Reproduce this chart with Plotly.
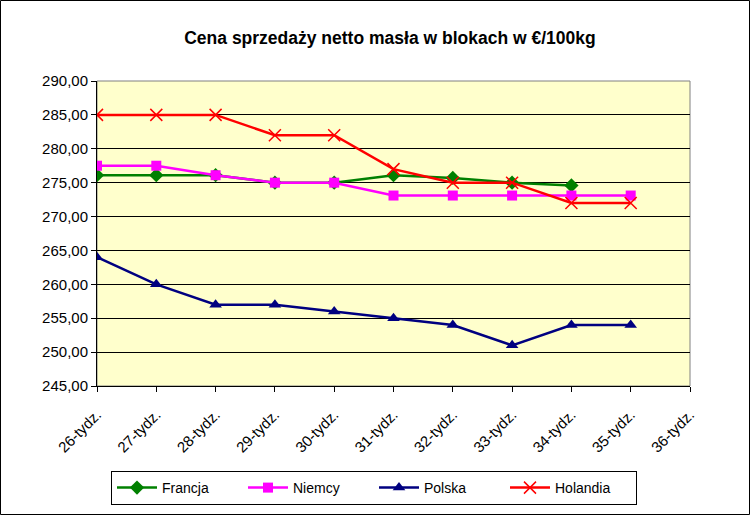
import plotly.graph_objects as go

weeks = ["26-tydz.", "27-tydz.", "28-tydz.", "29-tydz.", "30-tydz.", "31-tydz.",
         "32-tydz.", "33-tydz.", "34-tydz.", "35-tydz.", "36-tydz."]
francja = [276.1, 276.1, 276.1, 275.0, 275.0, 276.1, 275.7, 275.0, 274.6, None, None]
niemcy = [277.5, 277.5, 276.1, 275.0, 275.0, 273.1, 273.1, 273.1, 273.1, 273.1, None]
polska = [264.0, 260.0, 257.0, 257.0, 256.0, 255.0, 254.0, 251.0, 254.0, 254.0, None]
holandia = [285.0, 285.0, 285.0, 282.0, 282.0, 277.0, 275.0, 275.0, 272.0, 272.0, None]
y_ticks = [245, 250, 255, 260, 265, 270, 275, 280, 285, 290]

FONT = "Arial, Liberation Sans, sans-serif"

fig = go.Figure()
fig.add_trace(go.Scatter(x=weeks, y=francja, name="Francja", mode="lines+markers",
                         line=dict(color="#008000", width=2.5),
                         marker=dict(symbol="diamond", size=11, color="#008000")))
fig.add_trace(go.Scatter(x=weeks, y=niemcy, name="Niemcy", mode="lines+markers",
                         line=dict(color="#FF00FF", width=2.5),
                         marker=dict(symbol="square", size=10, color="#FF00FF")))
fig.add_trace(go.Scatter(x=weeks, y=polska, name="Polska", mode="lines+markers",
                         line=dict(color="#000080", width=2.5),
                         marker=dict(symbol="triangle-up", size=11, color="#000080")))
fig.add_trace(go.Scatter(x=weeks, y=holandia, name="Holandia", mode="lines+markers",
                         line=dict(color="#FF0000", width=2.5),
                         marker=dict(symbol="x-thin", size=12, color="#FF0000",
                                     line=dict(color="#FF0000", width=1.5))))

fig.update_layout(
    width=750, height=515,
    margin=dict(l=97, r=60, t=81, b=129, autoexpand=False),
    paper_bgcolor="white",
    plot_bgcolor="#FFFFCC",
    separators=", ",
    font=dict(family=FONT, size=15, color="black"),
    title=dict(text="<b>Cena sprzedaży netto masła w blokach w €/100kg</b>",
               x=0.494, xref="paper", xanchor="center",
               y=1 - 38 / 515, yref="container", yanchor="middle",
               font=dict(family=FONT, size=17.5, color="black")),
    xaxis=dict(type="category", categoryorder="array", categoryarray=weeks,
               range=[0, 10], tickangle=-45, showgrid=False, automargin=False,
               showline=True, linecolor="black", linewidth=1,
               ticks="outside", ticklen=5, tickcolor="black",
               ticklabelstandoff=8,
               tickfont=dict(size=15), zeroline=False),
    yaxis=dict(range=[245, 290], tickvals=y_ticks, tickformat=".2f",
               showgrid=True, gridcolor="black", gridwidth=1, automargin=False,
               showline=True, linecolor="black", linewidth=1,
               ticks="outside", ticklen=5, tickcolor="black",
               tickfont=dict(size=15), zeroline=False),
    legend=dict(orientation="h", x=(111 - 97) / 593, y=(386 - 471) / 305,
                xanchor="left", yanchor="top",
                bordercolor="black", borderwidth=1, bgcolor="white",
                font=dict(size=14), entrywidth=76, itemwidth=40),
    shapes=[
        dict(type="rect", xref="paper", yref="paper", x0=0, x1=1, y0=0, y1=1,
             line=dict(color="#808080", width=1), layer="below"),
        dict(type="rect", xref="paper", yref="paper",
             x0=(0.5 - 97) / 593, x1=(749.5 - 97) / 593,
             y0=(386 - 514.5) / 305, y1=(386 - 0.5) / 305,
             line=dict(color="black", width=1)),
    ],
)

fig.write_html("out.html", config={"displayModeBar": False},
               post_script="document.body.style.margin='0';")
